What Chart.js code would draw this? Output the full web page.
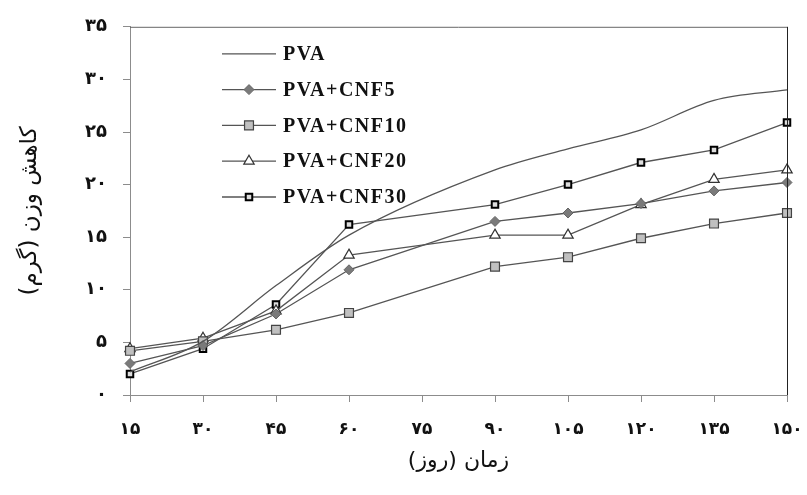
<!DOCTYPE html>
<html>
<head>
<meta charset="utf-8">
<script src="https://cdn.jsdelivr.net/npm/chart.js@4.4.0/dist/chart.umd.min.js"></script>
<style>
  html, body { margin: 0; padding: 0; background: #fff; }
  #wrap { width: 807px; height: 495px; }
</style>
</head>
<body>
<div id="wrap"><canvas id="myChart" width="807" height="495"></canvas></div>
<script>
// days (x categories), shown with Persian digits
const days = ['۱۵', '۳۰', '۴۵', '۶۰', '۷۵', '۹۰', '۱۰۵', '۱۲۰', '۱۳۵', '۱۵۰'];
const yTickLabels = ['۰', '۵', '۱۰', '۱۵', '۲۰', '۲۵', '۳۰', '۳۵'];

// weight loss (g); no measurement at day 75 for the marked series
const pva      = [2.2, 5.1, 10.4, 15.2, null, 21.4, 23.4, 25.2, 28.0, 29.0];
const pvaCnf5  = [3.0, 4.7, 7.7, 11.9, null, 16.5, 17.3, 18.2, 19.4, 20.2];
const pvaCnf10 = [4.2, 5.1, 6.2, 7.8, null, 12.2, 13.1, 14.9, 16.3, 17.3];
const pvaCnf20 = [4.4, 5.4, 8.0, 13.3, null, 15.2, 15.2, 18.1, 20.5, 21.4];
const pvaCnf30 = [2.0, 4.4, 8.6, 16.2, null, 18.1, 20.0, 22.1, 23.3, 25.9];

const seriesNames = ['PVA', 'PVA+CNF5', 'PVA+CNF10', 'PVA+CNF20', 'PVA+CNF30'];

const lineColor = '#555';
const axisColor = '#8c8c8c';

const frameLines = {
  id: 'frameLines',
  afterDraw(chart) {
    const { ctx, chartArea: a } = chart;
    ctx.save();
    ctx.lineWidth = 1;
    ctx.strokeStyle = '#666';
    ctx.beginPath();
    ctx.moveTo(a.left, a.top + 0.5);
    ctx.lineTo(a.right, a.top + 0.5);
    ctx.stroke();
    ctx.strokeStyle = '#222';
    ctx.beginPath();
    ctx.moveTo(a.right + 0.5, a.top);
    ctx.lineTo(a.right + 0.5, a.bottom);
    ctx.stroke();
    ctx.restore();
  }
};

const insideLegend = {
  id: 'insideLegend',
  afterDraw(chart) {
    const { ctx, chartArea: a } = chart;
    ctx.save();
    chart.data.datasets.forEach((ds, i) => {
      const y = a.top + 27 + i * 35.8;
      const x0 = a.left + 92, x1 = a.left + 146;
      ctx.strokeStyle = ds.borderColor;
      ctx.lineWidth = ds.borderWidth;
      ctx.beginPath();
      ctx.moveTo(x0, y);
      ctx.lineTo(x1, y);
      ctx.stroke();
      if (ds.pointRadius > 0) {
        ctx.fillStyle = ds.pointBackgroundColor;
        ctx.strokeStyle = ds.pointBorderColor;
        ctx.lineWidth = ds.pointBorderWidth;
        Chart.helpers.drawPoint(ctx, {
          pointStyle: ds.pointStyle, radius: ds.pointRadius,
          rotation: 0, borderWidth: ds.pointBorderWidth
        }, (x0 + x1) / 2, y);
      }
      ctx.fillStyle = '#111';
      ctx.font = 'bold 20px "Liberation Serif"';
      ctx.letterSpacing = '1.5px';
      ctx.textAlign = 'left';
      ctx.textBaseline = 'middle';
      ctx.fillText(seriesNames[i], a.left + 153, y + 1);
    });
    ctx.restore();
  }
};

const ctx = document.getElementById('myChart').getContext('2d');
new Chart(ctx, {
  type: 'line',
  data: {
    labels: days,
    datasets: [
      {
        label: seriesNames[0], data: pva,
        borderColor: lineColor, borderWidth: 1.3,
        pointRadius: 0, tension: 0.4, cubicInterpolationMode: 'monotone'
      },
      {
        label: seriesNames[1], data: pvaCnf5,
        borderColor: lineColor, borderWidth: 1.3, tension: 0,
        pointStyle: 'rectRot', pointRadius: 5,
        pointBackgroundColor: '#7a7a7a', pointBorderColor: '#666', pointBorderWidth: 1
      },
      {
        label: seriesNames[2], data: pvaCnf10,
        borderColor: lineColor, borderWidth: 1.3, tension: 0,
        pointStyle: 'rect', pointRadius: 6.3,
        pointBackgroundColor: '#c0c0c0', pointBorderColor: '#444', pointBorderWidth: 1.2
      },
      {
        label: seriesNames[3], data: pvaCnf20,
        borderColor: lineColor, borderWidth: 1.3, tension: 0,
        pointStyle: 'triangle', pointRadius: 6,
        pointBackgroundColor: '#fff', pointBorderColor: '#333', pointBorderWidth: 1.2
      },
      {
        label: seriesNames[4], data: pvaCnf30,
        borderColor: lineColor, borderWidth: 1.3, tension: 0,
        pointStyle: 'rect', pointRadius: 4.6,
        pointBackgroundColor: '#ddd', pointBorderColor: '#000', pointBorderWidth: 2
      }
    ]
  },
  options: {
    responsive: false,
    animation: false,
    devicePixelRatio: 1,
    spanGaps: true,
    layout: { padding: { top: 26, right: 20, left: 0, bottom: 0 } },
    plugins: { legend: { display: false }, tooltip: { enabled: false } },
    scales: {
      x: {
        offset: false,
        grid: { drawOnChartArea: false, color: axisColor, tickLength: 7 },
        border: { color: axisColor, width: 1 },
        ticks: {
          color: '#111', padding: 17, maxRotation: 0, autoSkip: false,
          font: { family: '"DejaVu Sans"', size: 17, weight: 'bold' }
        },
        title: {
          display: true, text: 'زمان (روز)\u200F', color: '#111',
          font: { family: '"DejaVu Sans"', size: 22 },
          padding: { top: 0, bottom: 21 }
        },
        afterFit(scale) {
          scale.height = 100;
          scale.paddingLeft = 0;
          scale.paddingRight = 0;
        }
      },
      y: {
        min: 0, max: 35,
        grid: { drawOnChartArea: false, color: axisColor, tickLength: 7 },
        border: { color: axisColor, width: 1 },
        ticks: {
          stepSize: 5, color: '#111', padding: 16,
          font: { family: '"DejaVu Sans"', size: 18, weight: 'bold' },
          callback: (v, i) => yTickLabels[i]
        },
        title: {
          display: true, text: 'کاهش وزن (گرم)\u200F', color: '#111',
          font: { family: '"DejaVu Sans"', size: 23 },
          padding: { top: 16, bottom: 0 }
        },
        afterFit(scale) { scale.width = 130; }
      }
    }
  },
  plugins: [frameLines, insideLegend]
});
</script>
</body>
</html>
